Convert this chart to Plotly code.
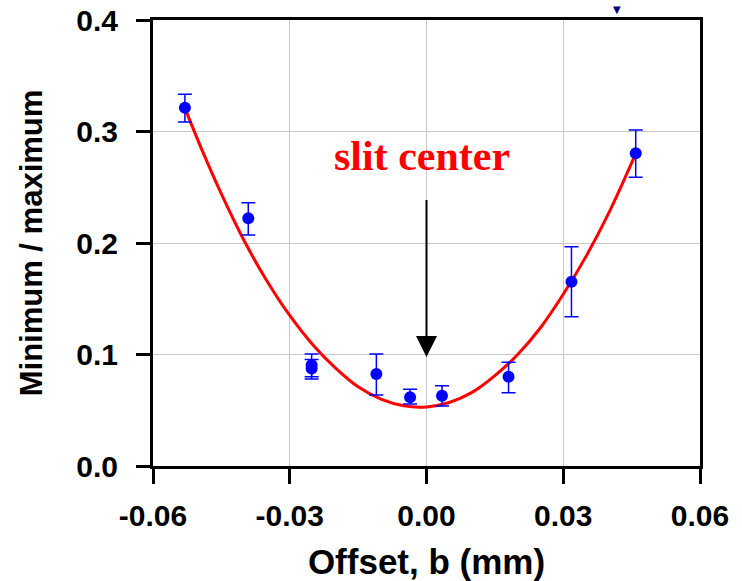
import plotly.graph_objects as go

# measured data points (offset b in mm, minimum/maximum ratio)
offset_b = [-0.0530, -0.0391, -0.0252, -0.0252, -0.0110, -0.0036, 0.0034, 0.0180, 0.0318, 0.0459]
ratio = [0.3214, 0.2221, 0.0905, 0.0875, 0.0825, 0.0616, 0.0630, 0.0801, 0.1653, 0.2804]
err_plus = [0.0120, 0.0141, 0.0099, 0.0080, 0.0179, 0.0072, 0.0090, 0.0129, 0.0314, 0.0209]
err_minus = [0.0129, 0.0149, 0.0105, 0.0095, 0.0188, 0.0060, 0.0092, 0.0143, 0.0314, 0.0215]

# fitted curve
fit_x = [-0.053, -0.049, -0.045, -0.040, -0.035, -0.030, -0.025, -0.020, -0.015, -0.010, -0.005,
         0.000, 0.005, 0.010, 0.015, 0.020, 0.025, 0.030, 0.035, 0.040, 0.046]
fit_y = [0.321, 0.281, 0.244, 0.202, 0.166, 0.135, 0.109, 0.088, 0.071, 0.060, 0.054,
         0.053, 0.057, 0.066, 0.081, 0.100, 0.124, 0.154, 0.188, 0.227, 0.281]

x_ticks = [-0.06, -0.03, 0.0, 0.03, 0.06]
x_labels = ["-0.06", "-0.03", "0.00", "0.03", "0.06"]
y_ticks = [0.0, 0.1, 0.2, 0.3, 0.4]
y_labels = ["0.0", "0.1", "0.2", "0.3", "0.4"]

fig = go.Figure()

fig.add_trace(go.Scatter(
    x=fit_x, y=fit_y, mode="lines", line=dict(color="#ff0000", width=3, shape="spline"),
    showlegend=False, hoverinfo="skip"))

fig.add_trace(go.Scatter(
    x=offset_b, y=ratio, mode="markers",
    marker=dict(color="#0000ff", size=12),
    error_y=dict(type="data", symmetric=False, array=err_plus, arrayminus=err_minus,
                 color="#0000ff", thickness=1.5, width=7),
    showlegend=False))

tick_font = dict(family="Liberation Sans, Arial", size=30, color="black", weight="bold")
title_font = dict(family="Liberation Sans, Arial", size=35, color="black", weight="bold")

fig.update_layout(
    width=742, height=581,
    margin=dict(l=153, r=42, t=20, b=115, autoexpand=False),
    paper_bgcolor="white", plot_bgcolor="white",
    xaxis=dict(range=[-0.06, 0.06], tickvals=x_ticks, ticktext=x_labels, automargin=False,
               showline=True, linewidth=3, linecolor="black", mirror=True,
               ticks="outside", ticklen=15, tickwidth=3, tickcolor="black",
               showgrid=True, gridcolor="#c8c8c8", gridwidth=1, zeroline=False,
               tickfont=tick_font, ticklabelstandoff=6,
               title=dict(text="Offset, b (mm)", font=title_font, standoff=24)),
    yaxis=dict(range=[0, 0.4], tickvals=y_ticks, ticktext=y_labels, automargin=False,
               showline=True, linewidth=3, linecolor="black", mirror=True,
               ticks="outside", ticklen=14, tickwidth=3, tickcolor="black",
               showgrid=True, gridcolor="#c8c8c8", gridwidth=1, zeroline=False,
               tickfont=tick_font, ticklabelstandoff=12,
               title=dict(text="Minimum / maximum",
                          font=dict(family="Liberation Sans, Arial", size=31, color="black", weight="bold"),
                          standoff=25)),
    annotations=[
        dict(x=-0.001, y=0.278, xref="x", yref="y", text="slit center", showarrow=False,
             font=dict(family="Liberation Serif, Times New Roman", size=42, color="#ff0000", weight="bold")),
        dict(x=0.0, y=0.0978, xref="x", yref="y", ax=0.0, ay=0.240, axref="x", ayref="y",
             text="", showarrow=True, arrowhead=2, arrowsize=2.1, arrowwidth=2, arrowcolor="black"),
        # small marker at the top edge of the original figure
        dict(x=0.0418, y=1, xref="x", yref="paper", yanchor="bottom", yshift=4,
             text="▼", showarrow=False, borderpad=0,
             font=dict(family="DejaVu Sans", size=10, color="#000080")),
    ],
)

fig.write_html("out.html")
